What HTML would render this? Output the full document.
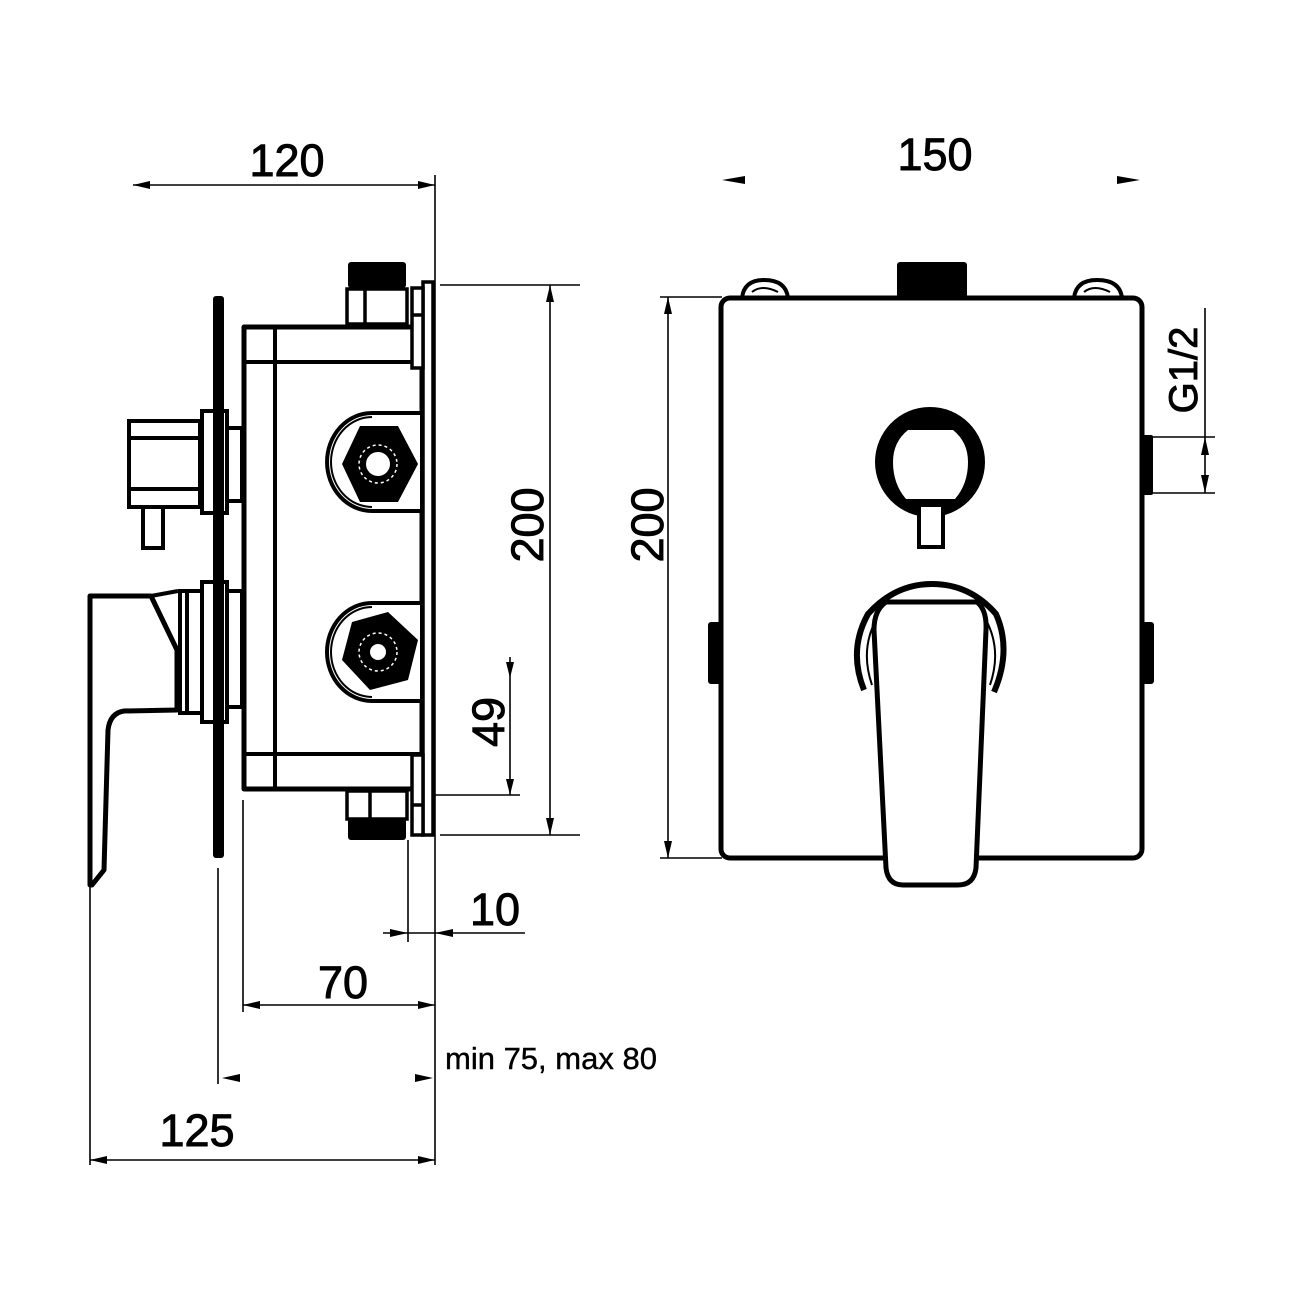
<!DOCTYPE html>
<html><head><meta charset="utf-8"><style>
html,body{margin:0;padding:0;background:#fff;}
svg{display:block}
text{font-family:"Liberation Sans",Arial,sans-serif;fill:#000}
.d{stroke:#000;stroke-width:0.9}
</style></head><body>
<svg width="1300" height="1300" viewBox="0 0 1300 1300" xmlns="http://www.w3.org/2000/svg">
<rect width="1300" height="1300" fill="#fff"/>
<g stroke="#000" fill="none" stroke-width="1.6">
<line x1="133" y1="185" x2="435" y2="185"/>
<line x1="435" y1="175" x2="435" y2="1165"/>
<line x1="440" y1="285" x2="580" y2="285"/>
<line x1="440" y1="835" x2="580" y2="835"/>
<line x1="550" y1="285" x2="550" y2="835"/>
<line x1="435" y1="795" x2="520" y2="795"/>
<line x1="510" y1="657" x2="510" y2="795"/>
<line x1="408" y1="840" x2="408" y2="942"/>
<line x1="383" y1="933" x2="525" y2="933"/>
<line x1="243" y1="800" x2="243" y2="1012"/>
<line x1="243" y1="1005" x2="435" y2="1005"/>
<line x1="218" y1="868" x2="218" y2="1084"/>
<line x1="90" y1="885" x2="90" y2="1165"/>
<line x1="90" y1="1160" x2="435" y2="1160"/>
<line x1="660" y1="297" x2="722" y2="297"/>
<line x1="660" y1="858" x2="722" y2="858"/>
<line x1="668" y1="297" x2="668" y2="858"/>
<line x1="1150" y1="437" x2="1215" y2="437"/>
<line x1="1150" y1="493" x2="1215" y2="493"/>
<line x1="1205" y1="308" x2="1205" y2="493"/>
</g>
<g fill="#000">
<polygon points="133,185 150,181 150,189"/>
<polygon points="435,185 418,181 418,189"/>
<polygon points="550,285 546,302 554,302"/>
<polygon points="550,835 546,818 554,818"/>
<polygon points="510,678 506,662 514,662"/>
<polygon points="510,795 506,779 514,779"/>
<polygon points="408,933 390,929 390,937"/>
<polygon points="435,933 453,929 453,937"/>
<polygon points="243,1005 260,1001 260,1009"/>
<polygon points="435,1005 418,1001 418,1009"/>
<polygon points="222,1078 240,1074 240,1082"/>
<polygon points="433,1078 415,1074 415,1082"/>
<polygon points="90,1160 107,1156 107,1164"/>
<polygon points="435,1160 418,1156 418,1164"/>
<polygon points="722,180 745,176 745,184"/>
<polygon points="1140,180 1117,176 1117,184"/>
<polygon points="668,297 664,314 672,314"/>
<polygon points="668,858 664,841 672,841"/>
<polygon points="1205,437 1201,455 1209,455"/>
<polygon points="1205,493 1201,475 1209,475"/>
</g>
<text class="d" x="287" y="176" font-size="45" text-anchor="middle">120</text>
<text class="d" x="935" y="170" font-size="45" text-anchor="middle">150</text>
<text class="d" x="197" y="1146" font-size="45" text-anchor="middle">125</text>
<text class="d" x="343" y="998" font-size="45" text-anchor="middle">70</text>
<text class="d" x="495" y="925" font-size="45" text-anchor="middle">10</text>
<text x="445" y="1069" font-size="31" style="stroke:#000;stroke-width:0.4">min 75, max 80</text>
<text class="d" transform="translate(543,525) rotate(-90)" font-size="45" text-anchor="middle">200</text>
<text class="d" transform="translate(663,525) rotate(-90)" font-size="45" text-anchor="middle">200</text>
<text class="d" transform="translate(504,722) rotate(-90)" font-size="45" text-anchor="middle">49</text>
<text class="d" transform="translate(1197,370) rotate(-90)" font-size="40" text-anchor="middle">G1/2</text>

<!-- LEFT VIEW -->
<g stroke="#000" fill="none" stroke-width="5" stroke-linejoin="round">
<rect x="244" y="327" width="178" height="462" fill="#fff"/>
<line x1="275" y1="327" x2="275" y2="789" stroke-width="4"/>
<line x1="244" y1="362" x2="422" y2="362" stroke-width="4"/>
<line x1="244" y1="754" x2="422" y2="754" stroke-width="4"/>
</g>
<path d="M420,413 L372,413 A45,49 0 0 0 372,511 L420,511 Z" fill="#fff"/>
<path d="M420,603 L372,603 A45,49 0 0 0 372,701 L420,701 Z" fill="#fff"/>
<g stroke="#000" fill="none" stroke-width="4">
<path d="M422,413 L372,413 A45,49 0 0 0 372,511 L422,511"/>
<path d="M422,603 L372,603 A45,49 0 0 0 372,701 L422,701"/>
<path d="M372,417 A41,45 0 0 0 372,507" stroke-width="2"/>
<path d="M372,607 A41,45 0 0 0 372,697" stroke-width="2"/>
</g>
<polygon points="342,464 360,426 398,426 418,464 398,502 360,502" fill="#000"/>
<circle cx="378" cy="464" r="19" fill="none" stroke="#fff" stroke-width="1.5" stroke-dasharray="3,3"/>
<circle cx="378" cy="464" r="12" fill="#fff"/>
<polygon points="342,660 352,622 388,612 418,640 408,680 370,690" fill="#000"/>
<circle cx="378" cy="652" r="19" fill="none" stroke="#fff" stroke-width="1.5" stroke-dasharray="3,3"/>
<circle cx="378" cy="652" r="8" fill="#fff"/>
<g stroke="#000" fill="#fff" stroke-width="3.5">
<rect x="423" y="282" width="10" height="553"/>
<rect x="412" y="288" width="11" height="80"/>
<rect x="412" y="755" width="11" height="80"/>
<line x1="412" y1="315" x2="423" y2="315"/>
<line x1="412" y1="805" x2="423" y2="805"/>
<rect x="347" y="289" width="60" height="35"/>
<line x1="365" y1="289" x2="365" y2="324"/>
<rect x="347" y="791" width="60" height="28"/>
<line x1="370" y1="791" x2="370" y2="819"/>
</g>
<rect x="348" y="262" width="58" height="26" rx="3" fill="#000"/>
<rect x="348" y="818" width="58" height="22" rx="3" fill="#000"/>
<rect x="213" y="296" width="11" height="562" rx="3" fill="#000"/>
<g stroke="#000" fill="#fff" stroke-width="4">
<rect x="227" y="428" width="15" height="73"/>
<rect x="202" y="411" width="25" height="102"/>
<rect x="129" y="421" width="71" height="86"/>
<line x1="129" y1="438" x2="200" y2="438"/>
<line x1="129" y1="489" x2="200" y2="489"/>
<rect x="143" y="507" width="20" height="41"/>
<rect x="227" y="591" width="15" height="116"/>
<rect x="202" y="582" width="25" height="140"/>
<rect x="180" y="591" width="22" height="122"/>
<line x1="187" y1="591" x2="187" y2="713"/>
</g>
<rect x="213" y="411" width="11" height="102" fill="#000"/>
<rect x="213" y="582" width="11" height="140" fill="#000"/>
<path d="M90,596 L151,596 L177,650 L177,710 L124,711 Q110,713 108,730 L104,870 L92,885 L90,885 Z" fill="#fff" stroke="#000" stroke-width="5" stroke-linejoin="round"/>
<path d="M151,596 L178,591" stroke="#000" stroke-width="4"/>

<!-- RIGHT VIEW -->
<path d="M742,298 Q744,280 764,280 Q786,280 788,298 Z" fill="#fff" stroke="#000" stroke-width="4"/>
<path d="M1074,298 Q1076,280 1097,280 Q1120,280 1122,298 Z" fill="#fff" stroke="#000" stroke-width="4"/>
<path d="M752,292 q10,-8 26,0 M1084,292 q10,-8 26,0" stroke="#000" stroke-width="2" fill="none"/>
<rect x="897" y="262" width="70" height="36" rx="3" fill="#000"/>
<rect x="708" y="622" width="14" height="62" rx="3" fill="#000"/>
<rect x="1140" y="622" width="14" height="62" rx="3" fill="#000"/>
<rect x="1140" y="435" width="13" height="60" rx="2" fill="#000"/>
<rect x="721" y="298" width="421" height="560" rx="9" fill="#fff" stroke="#000" stroke-width="5"/>
<circle cx="930" cy="462" r="55" fill="#000"/>
<path d="M908,430 L953,430 Q968,442 968,462 Q968,484 955,499 L906,499 Q893,484 893,462 Q893,442 908,430 Z" fill="#fff"/>
<rect x="919" y="505" width="24" height="42" fill="#fff" stroke="#000" stroke-width="4"/>
<path d="M864,690 Q848,650 868,614 Q895,584 932,584 Q970,584 996,614 Q1012,650 994,692" fill="none" stroke="#000" stroke-width="6"/>
<path d="M872,685 Q860,650 876,620" fill="none" stroke="#000" stroke-width="2"/>
<path d="M990,685 Q1002,650 986,620" fill="none" stroke="#000" stroke-width="2"/>
<path d="M886,602 L977,602 Q987,610 986,630 L976,868 Q974,885 958,885 L903,885 Q888,885 886,868 L874,630 Q874,610 886,602 Z" fill="#fff" stroke="#000" stroke-width="5" stroke-linejoin="round"/>
</svg>
</body></html>
